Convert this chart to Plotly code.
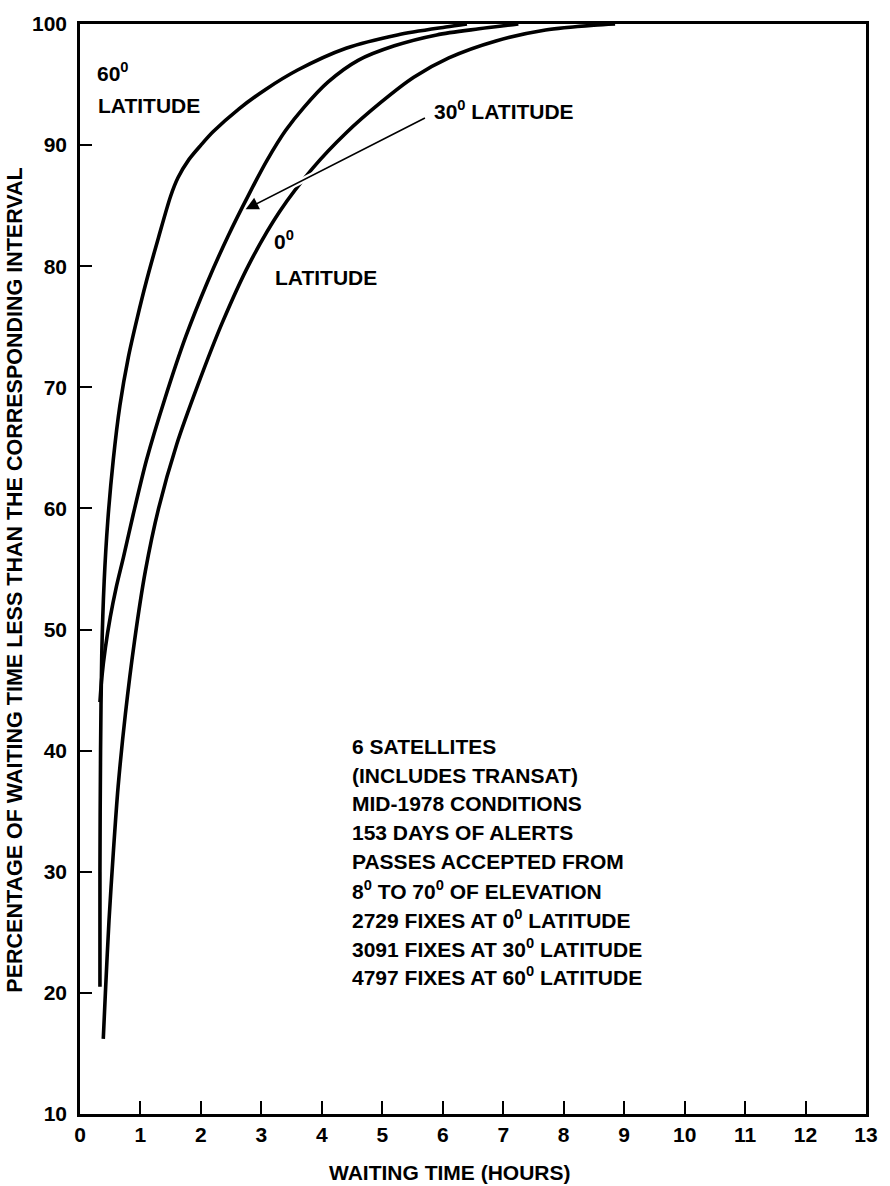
import plotly.graph_objects as go

# Cumulative distribution of waiting time between satellite fixes
# x: waiting time (hours), y: percentage of waiting times shorter than x
LAT60_HOURS = [0.33, 0.33, 0.34, 0.36, 0.40, 0.46, 0.55, 0.66, 0.80, 0.95, 1.10,
               1.30, 1.50, 1.62, 1.80, 2.00, 2.20, 2.63, 3.07, 3.60, 4.40, 5.25,
               6.05, 6.40]
LAT60_PCT = [20.5, 30.0, 40.0, 48.0, 54.0, 59.0, 64.0, 68.5, 72.5, 75.8, 78.8,
             82.4, 85.8, 87.3, 88.8, 90.0, 91.1, 93.0, 94.6, 96.2, 98.0, 99.1,
             99.75, 100.0]

LAT30_HOURS = [0.33, 0.36, 0.42, 0.50, 0.60, 0.72, 0.88, 1.10, 1.40, 1.75, 2.10,
               2.45, 2.80, 3.10, 3.40, 3.70, 4.10, 4.60, 5.20, 5.90, 6.60, 7.25]
LAT30_PCT = [44.0, 46.0, 48.5, 51.0, 53.5, 56.0, 59.5, 64.0, 69.0, 74.2, 78.6,
             82.5, 86.0, 88.8, 91.2, 93.1, 95.2, 97.0, 98.2, 99.1, 99.6, 100.0]

LAT0_HOURS = [0.385, 0.42, 0.48, 0.55, 0.63, 0.75, 0.90, 1.08, 1.30, 1.60, 1.95,
              2.35, 2.80, 3.30, 3.85, 4.40, 4.97, 5.52, 6.10, 6.88, 7.70, 8.50, 8.85]
LAT0_PCT = [16.2, 20.0, 26.0, 31.5, 37.0, 43.0, 49.0, 54.8, 60.0, 65.3, 70.2,
            75.3, 80.2, 84.5, 88.1, 91.0, 93.5, 95.6, 97.2, 98.6, 99.5, 99.9, 100.0]

X_TICKS = list(range(0, 14))
Y_TICKS = list(range(10, 101, 10))

NOTE_LINES = [
    "6 SATELLITES",
    "(INCLUDES TRANSAT)",
    "MID-1978 CONDITIONS",
    "153 DAYS OF ALERTS",
    "PASSES ACCEPTED FROM",
    "8<sup>0</sup> TO 70<sup>0</sup> OF ELEVATION",
    "2729 FIXES AT 0<sup>0</sup> LATITUDE",
    "3091 FIXES AT 30<sup>0</sup> LATITUDE",
    "4797 FIXES AT 60<sup>0</sup> LATITUDE",
]

FONT = "Liberation Sans, Arial, sans-serif"
FS = 21


def font(size=FS):
    return dict(family=FONT, size=size, color="black", weight="bold")


fig = go.Figure()
for xs, ys in [(LAT60_HOURS, LAT60_PCT), (LAT30_HOURS, LAT30_PCT), (LAT0_HOURS, LAT0_PCT)]:
    fig.add_trace(go.Scatter(
        x=xs, y=ys, mode="lines",
        line=dict(color="black", width=3.6, shape="spline", smoothing=0.8),
        showlegend=False, hoverinfo="skip",
    ))


def label(text, x, y):
    fig.add_annotation(text=text, x=x, y=y, xref="x", yref="y",
                       xanchor="left", yanchor="middle", showarrow=False,
                       font=font())


label("60<sup>0</sup>", 0.25, 96.0)
label("LATITUDE", 0.27, 93.3)
label("0<sup>0</sup>", 3.18, 82.2)
label("LATITUDE", 3.2, 79.1)
label("30<sup>0</sup> LATITUDE", 5.82, 92.9)

# arrow from the 30 degree label to its curve; a white band under it
# leaves a small break where it crosses the 0 degree curve
ARROW_TAIL = (5.73, 92.3)
ARROW_TIP = (2.74, 84.7)
slope = (ARROW_TAIL[1] - ARROW_TIP[1]) / (ARROW_TAIL[0] - ARROW_TIP[0])
gap_x0, gap_x1 = 3.42, 3.92
fig.add_shape(type="line", xref="x", yref="y", layer="above",
              x0=gap_x0, y0=ARROW_TIP[1] + slope * (gap_x0 - ARROW_TIP[0]),
              x1=gap_x1, y1=ARROW_TIP[1] + slope * (gap_x1 - ARROW_TIP[0]),
              line=dict(color="white", width=6))
fig.add_annotation(x=ARROW_TIP[0], y=ARROW_TIP[1], ax=ARROW_TAIL[0], ay=ARROW_TAIL[1],
                   xref="x", yref="y", axref="x", ayref="y", text="", showarrow=True,
                   arrowhead=2, arrowsize=1.6, arrowwidth=1.6, arrowcolor="black")

for i, line in enumerate(NOTE_LINES):
    label(line, 4.47, 100 - (743 + 29 * i - 14) / 12.222)

fig.add_annotation(text="WAITING TIME (HOURS)", x=0.47, y=-0.054, xref="paper", yref="paper",
                   xanchor="center", yanchor="middle", showarrow=False, font=font())
fig.add_annotation(text="PERCENTAGE OF WAITING TIME LESS THAN THE CORRESPONDING INTERVAL",
                   x=-0.083, y=0.49, xref="paper", yref="paper", textangle=-90,
                   xanchor="center", yanchor="middle", showarrow=False, font=font(21.5))

axis_common = dict(showline=True, linecolor="black", linewidth=2.5, mirror=True,
                   ticks="inside", tickcolor="black", tickwidth=2,
                   showgrid=False, zeroline=False, tickfont=font(21))
fig.update_xaxes(range=[0, 13], tickvals=X_TICKS, ticklen=13, **axis_common)
fig.update_yaxes(range=[10, 100], tickvals=Y_TICKS, ticklen=12, ticklabelstandoff=6, **axis_common)

fig.update_layout(
    width=890, height=1186,
    margin=dict(l=80, r=16, t=14, b=72),
    paper_bgcolor="white", plot_bgcolor="white",
)

fig.write_html("out.html")
